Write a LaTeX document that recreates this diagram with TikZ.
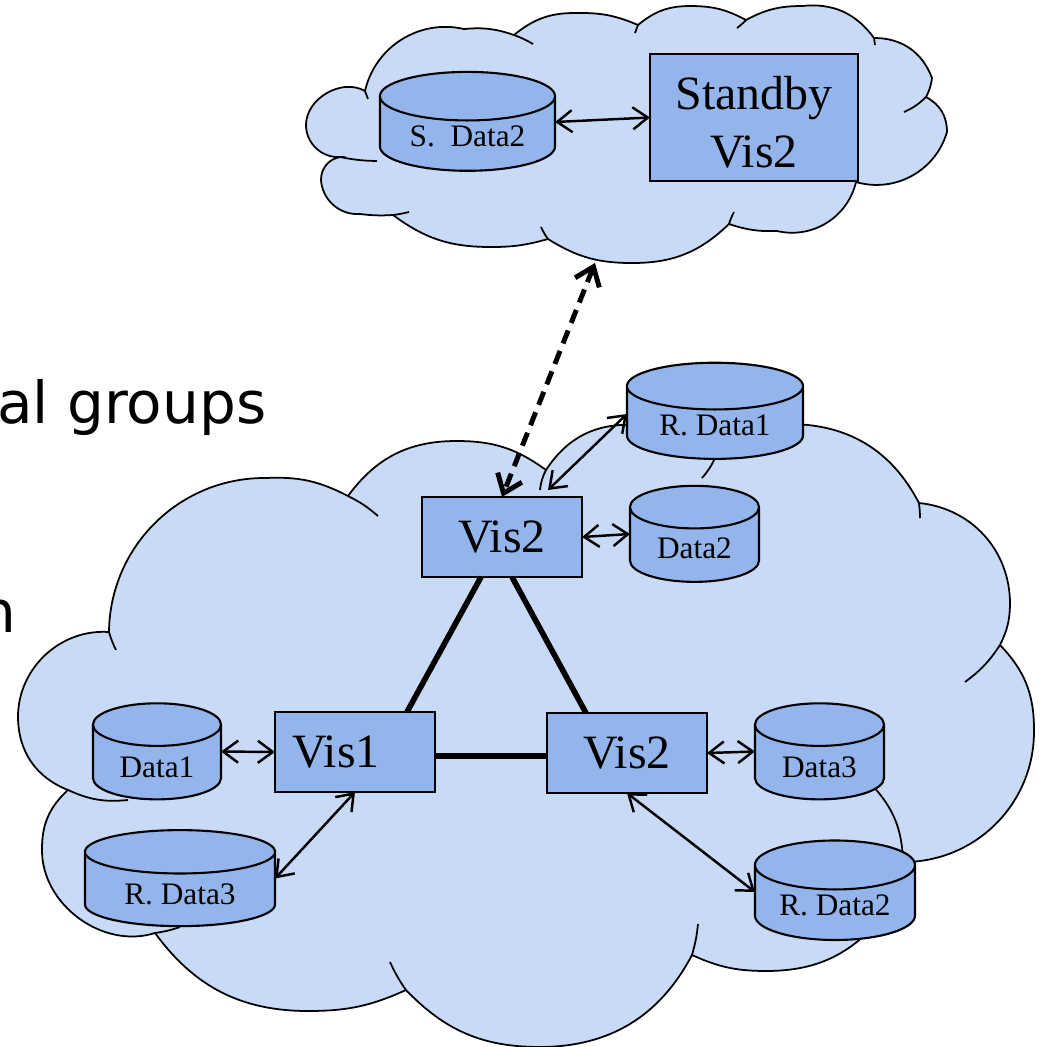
\documentclass[tikz,border=0pt]{standalone}
\usepackage{fontspec}
\setmainfont{Liberation Serif}
\newfontfamily\slidefont{DejaVu Sans}
\usetikzlibrary{arrows.meta, shapes.geometric, calc}
\definecolor{cloudfill}{HTML}{C9DAF6}
\definecolor{boxfill}{HTML}{93B5EB}
\tikzset{
    cloudline/.style={draw=black, line width=0.5pt},
    cloudshape/.style={cloudline, fill=cloudfill},
    visbox/.style={draw, fill=boxfill, line width=0.6pt, minimum width=1.6cm, minimum height=0.8cm, inner sep=0pt, outer sep=0pt, font=\fontsize{13.6}{16.4}\selectfont},
    datacyl/.style={cylinder, shape border rotate=90, draw, fill=boxfill, line width=0.6pt, inner sep=0pt, outer sep=0pt, text depth=0pt, font=\fontsize{8.9}{10}\selectfont},
    link/.style={<->, >={Straight Barb[length=1.5mm, width=2.2mm]}, line width=0.7pt},
    trunk/.style={line width=1.6pt},
    standbylink/.style={<->, >={Straight Barb[length=1.7mm, width=2.6mm]}, line width=1.4pt, dash pattern=on 1.4mm off 0.8mm},
    slidetext/.style={anchor=base east, inner sep=0pt, font=\slidefont\fontsize{16.5}{19}\selectfont}
}
\begin{document}
\begin{tikzpicture}[x=0.01cm, y=-0.01cm]
    \useasboundingbox (0,0) rectangle (1042,1047);

    % Text left over from the slide
    \node[slidetext] (groupstext) at (267,423) {al groups};
    \node[slidetext] (lastword) at (17,632) {n};

    % Draw the upper cloud
    \path[cloudshape] (340,157) to[bend left=47] (306,125) to[bend left=60] (365,91)
        to[bend left=45] (464,29) to[bend left=12] (514,35)
        to[bend left=20] (577,13) to[bend left=12] (638,25)
        to[bend left=20] (691,6) to[bend left=14] (746,20)
        to[bend left=14] (802,6) to[bend left=30] (874,38)
        to[bend left=35] (932,78) to[bend left=10] (926,97)
        to[bend left=31] (947,132) to[bend left=45] (856,182)
        to[bend left=45] (777,231) to[bend left=10] (729,224)
        to[bend left=22] (632,263) to[bend left=16] (548,239)
        to[bend left=8] (489,247) to[bend left=18] (393,215)
        to[bend left=5] (360,214) to[bend left=45] (321,180)
        to[bend left=40] (340,157) -- cycle;
    \draw[cloudline] (377,161) to[bend left=5] (340,157);
    \draw[cloudline] (368,99) to[bend left=5] (365,91);
    \draw[cloudline] (514,35) to[bend left=5] (533,44);
    \draw[cloudline] (638,25) to[bend left=5] (635,33);
    \draw[cloudline] (746,20) to[bend left=5] (737,28);
    \draw[cloudline] (874,38) to[bend left=5] (875,45);
    \draw[cloudline] (926,97) to[bend left=10] (904,112);
    \draw[cloudline] (729,224) to[bend left=5] (734,212);
    \draw[cloudline] (548,239) to[bend left=5] (541,227);
    \draw[cloudline] (409,212) to[bend left=3] (393,215);

    % Draw the lower cloud
    \path[cloudshape] (109,632) to[bend left=45] (266,478) to[bend left=15] (348,496)
        to[bend left=27] (457,441) to[bend left=18] (546,470)
        to[bend left=30] (635,425) -- (714,440) -- (790,424)
        to[bend left=31] (919,503)
        to[bend left=42] (1010,603) to[bend left=13] (1000,645)
        to[bend left=22] (1034,730) to[bend left=45] (905,862) -- (880,920)
        to[bend left=24] (765,971) to[bend left=12] (692,955)
        to[bend left=31] (540,1047) to[bend left=23] (406,990)
        to[bend left=12] (310,1011) to[bend left=27] (155,933)
        to[bend left=54] (42,850) to[bend left=24] (68,790)
        to[bend left=34] (18,717) to[bend left=47] (109,632) -- cycle;
    \draw[cloudline] (116,650) to[bend left=5] (109,632);
    \draw[cloudline] (348,496) to[bend left=7] (378,516);
    \draw[cloudline] (540,490) to[bend left=10] (546,470);
    \draw[cloudline] (716,456) to[bend left=8] (702,478);
    \draw[cloudline] (919,503) to[bend left=3] (920,518);
    \draw[cloudline] (1000,645) to[bend left=10] (965,682);
    \draw[cloudline] (872,785) to[bend left=20] (903,860);
    \draw[cloudline] (698,924) to[bend left=5] (692,955);
    \draw[cloudline] (406,990) to[bend left=5] (390,962);
    \draw[cloudline] (180,927) to[bend left=5] (155,933);
    \draw[cloudline] (128,800) to[bend left=15] (68,790);

    % Draw data stores as nodes
    \node[datacyl, minimum width=1.75cm, minimum height=0.96cm, aspect=0.42, text height=0.25cm] (sdata) at (467.5,134) {S.~~Data2};
    \node[datacyl, minimum width=1.76cm, minimum height=0.96cm, aspect=0.42, text height=0.25cm] (rdataone) at (715,423) {R. Data1};
    \node[datacyl, minimum width=1.29cm, minimum height=0.96cm, aspect=0.57, text height=0.27cm] (datatwo) at (694.5,545) {Data2};
    \node[datacyl, minimum width=1.28cm, minimum height=0.96cm, aspect=0.57, text height=0.29cm] (dataone) at (157,762.5) {Data1};
    \node[datacyl, minimum width=1.29cm, minimum height=0.96cm, aspect=0.57, text height=0.29cm] (datathree) at (819.5,762.5) {Data3};
    \node[datacyl, minimum width=1.90cm, minimum height=0.96cm, aspect=0.39, text height=0.29cm] (rdatathree) at (180,889.5) {R. Data3};
    \node[datacyl, minimum width=1.60cm, minimum height=0.91cm, aspect=0.44, text height=0.25cm] (rdatatwo) at (835,903) {R. Data2};

    % Draw visualization sites as nodes
    \node[visbox, minimum width=2.08cm, minimum height=1.27cm, align=center, text height=1.0cm, text depth=0pt] (standby) at (754,117.5) {Standby\\Vis2};
    \node[visbox] (vistop) at (502,537) {Vis2};
    \node[visbox] (visleft) at (355,752) {Vis1\hspace*{0.38cm}};
    \node[visbox] (visright) at (627,753) {Vis2};

    % Free end of the standby link
    \coordinate (cloudtip) at (595,263);

    % Draw arrows connecting nodes
    \draw[link] ([shift={(0,-12)}]sdata.east) -- (standby.west);
    \draw[standbylink] (cloudtip) -- (vistop.north);
    \draw[link] ([shift={(46,-7)}]vistop.north) -- ([shift={(0,-9)}]rdataone.west);
    \draw[link] (vistop.east) -- ([shift={(0,-11)}]datatwo.west);
    \draw[link] ([shift={(0,-11)}]dataone.east) -- (visleft.west);
    \draw[link] (visright.east) -- ([shift={(0,-11)}]datathree.west);
    \draw[link] (visleft.south) -- ([shift={(0,-11)}]rdatathree.east);
    \draw[link] (visright.south) -- ([shift={(0,-11)}]rdatatwo.west);

    % Draw the triangle between the sites
    \draw[trunk] ([shift={(-21,0)}]vistop.south) -- ([shift={(52,0)}]visleft.north);
    \draw[trunk] ([shift={(10,0)}]vistop.south) -- ([shift={(-41,0)}]visright.north);
    \draw[trunk] ([shift={(0,4)}]visleft.east) -- ([shift={(0,3)}]visright.west);
\end{tikzpicture}
\end{document}
